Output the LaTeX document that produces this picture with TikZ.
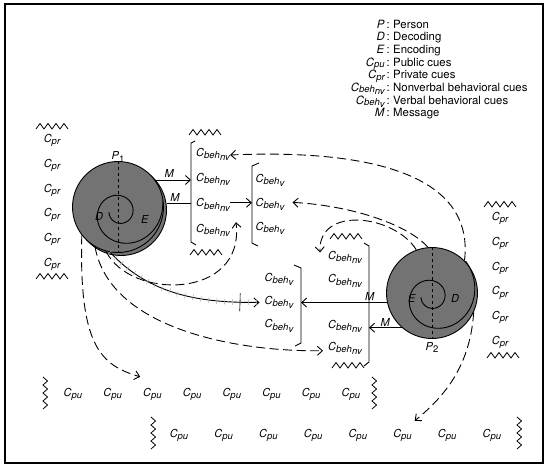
\documentclass[tikz,border=0pt]{standalone}
\usepackage{fontspec}
\setmainfont{TeX Gyre Heros}
\usetikzlibrary{positioning,arrows.meta,decorations.pathreplacing,decorations.markings}

\newcommand{\subsize}{\fontsize{9.5}{10}\selectfont}
\newcommand{\subdrop}{-2.2pt}
\newcommand{\cue}[1]{\textit{C\raisebox{\subdrop}[0pt][0pt]{\subsize #1}}}
\newcommand{\cbeh}[1]{\textit{C\raisebox{\subdrop}[0pt][0pt]{\subsize beh\raisebox{-2pt}[0pt][0pt]{#1}}}}
\newcommand{\person}[1]{\textit{P}\raisebox{-2.2pt}[0pt][0pt]{\subsize #1}}
\newcommand{\cuewidth}{24pt}
\newcommand{\cueheight}{14pt}
\newcommand{\discsize}{91pt}
\newcommand{\prgap}{10.4pt}
\tikzstyle{cue}=[fill=none,text=black,draw=none,shape=rectangle,inner sep=0pt,
                 minimum width=\cuewidth,minimum height=\cueheight,
                 font=\fontsize{11}{13}\selectfont]
\tikzstyle{tag}=[fill=none,text=black,draw=none,inner sep=0pt,font=\fontsize{11}{13}\selectfont]
\tikzstyle{legend}=[tag,font=\fontsize{11.4}{13}\selectfont\renewcommand{\subdrop}{-1.4pt}]
\tikzstyle{disc}=[shape=circle,draw=black,fill=black!55,line width=0.9pt,
                  minimum size=\discsize,inner sep=0pt]
\tikzstyle{axis}=[dashed,line width=0.8pt]
\tikzstyle{spiral}=[line width=0.9pt]
\tikzstyle{msg}=[->,line width=0.9pt]
\tikzstyle{link}=[->,line width=0.9pt,dash pattern=on 9pt off 4.5pt]
\tikzstyle{brace}=[line width=0.9pt]
\tikzset{
  hzig/.pic={\draw[line width=0.8pt] (0,0) \foreach \zz in {1,...,4} {-- ++(4,-5.5) -- ++(4,5.5)};},
  vzig/.pic={\draw[line width=0.8pt] (0,0) \foreach \zz in {1,...,4} {-- ++(4.5,4) -- ++(-4.5,4)};}
}

\begin{document}
\begin{tikzpicture}[x=1pt,y=-1pt,>={Straight Barb[length=5pt,width=9pt]}]
\useasboundingbox (0,0) rectangle (553,469);
\draw[line width=1.1pt] (5,4) rectangle (543,463);

% legend
\foreach \lkey/\ltext [count=\i] in {\textit{P}/Person, \textit{D}/Decoding, \textit{E}/Encoding,
    \cue{pu}/Public cues, \cue{pr}/Private cues, \cbeh{nv}/Nonverbal behavioral cues,
    \cbeh{v}/Verbal behavioral cues, \textit{M}/Message}
{
  \node[legend, anchor=base east] (key\i) at (390,{15.3+12.7*\i}) {\lkey\,:};
  \node[legend, anchor=base west] (txt\i) at (393,{15.3+12.7*\i}) {\ltext};
}

% persons
\node[disc] (p1rim) at (121,210) {};
\node[disc] (p1) at (118,207) {};
\node[disc] (p2) at (432,293) {};
\draw[axis] (p1.north) -- (p1.south);
\draw[axis] (p2.north) -- (p2.south);
\draw[spiral] plot[domain=181:735,samples=100,smooth]
  ({120+(11+31*((\x-180)/540)^2.5)*cos(\x)},{212-(11+31*((\x-180)/540)^2.5)*sin(\x)});
\draw[spiral] plot[domain=181:767,samples=100,smooth]
  ({432+(11+31*((\x-180)/540)^2.5)*cos(\x)},{297-(11+31*((\x-180)/540)^2.5)*sin(\x)});
\node[tag] (d1) at ([xshift=-19pt,yshift=-9pt]p1.center) {\textit{D}};
\node[tag] (e1) at ([xshift=27pt,yshift=-12pt]p1.center) {\textit{E}};
\node[tag] (e2) at ([xshift=-20pt,yshift=-5pt]p2.center) {\textit{E}};
\node[tag] (d2) at ([xshift=23pt,yshift=-5pt]p2.center) {\textit{D}};
\node[tag, above=1pt of p1] (p1name) {\person{1}};
\node[tag, below=3pt of p2] (p2name) {\person{2}};

% private cues
\node[cue] (prL1) at (52,138.5) {\cue{pr}};
\foreach \i [remember=\i as \j (initially 1)] in {2,...,6}
  \node[cue, below=\prgap of prL\j] (prL\i) {\cue{pr}};
\node[cue] (prR1) at (500,216.5) {\cue{pr}};
\foreach \i [remember=\i as \j (initially 1)] in {2,...,6}
  \node[cue, below=\prgap of prR\j] (prR\i) {\cue{pr}};

% public cues
\node[cue] (cpuA1) at (73,392) {\cue{pu}};
\foreach \i [remember=\i as \j (initially 1)] in {2,...,8}
  \node[cue, right=15.3pt of cpuA\j] (cpuA\i) {\cue{pu}};
\node[cue] (cpuB1) at (179,433) {\cue{pu}};
\foreach \i [remember=\i as \j (initially 1)] in {2,...,8}
  \node[cue, right=20.3pt of cpuB\j] (cpuB\i) {\cue{pu}};

% behavioral cues
\node[cue] (nv1) at (213,152) {\cbeh{nv}};
\node[cue, below=11pt of nv1] (nv2) {\cbeh{nv}};
\node[cue, below=11pt of nv2] (nv3) {\cbeh{nv}};
\node[cue, below=11pt of nv3] (nv4) {\cbeh{nv}};
\node[cue] (v1) at (270,178.5) {\cbeh{v}};
\node[cue, below=9.5pt of v1] (v2) {\cbeh{v}};
\node[cue, below=9.5pt of v2] (v3) {\cbeh{v}};
\node[cue] (lnv1) at (345,255.5) {\cbeh{nv}};
\node[cue, below=9pt of lnv1] (lnv2) {\cbeh{nv}};
\node[cue, below=31pt of lnv2] (lnv3) {\cbeh{nv}};
\node[cue, below=8pt of lnv3] (lnv4) {\cbeh{nv}};
\node[cue] (lv1) at (279,277) {\cbeh{v}};
\node[cue, below=9pt of lv1] (lv2) {\cbeh{v}};
\node[cue, below=9pt of lv2] (lv3) {\cbeh{v}};

% brackets and zigzags
\draw[brace] (195,141) -- (191,143) -- (191,242) -- (196,245);
\draw[brace] (259,163) -- (252,166) -- (252,243) -- (258,246);
\draw[brace] (364,243) -- (369,246) -- (369,362) -- (364,366);
\draw[brace] (294,265) -- (301,268) -- (301,343) -- (295,346);
\coordinate (brnvA) at (191,190);
\coordinate (brvA) at (252,200);
\coordinate (brnvB) at (369,300);
\coordinate (brvB) at (301,300);
\pic at (36,129) {hzig};
\pic at (36,279) {hzig};
\pic at (189,135) {hzig};
\pic at (190,255) {hzig};
\pic at (330,239) {hzig};
\pic at (332,368) {hzig};
\pic at (484,207) {hzig};
\pic at (487,358) {hzig};
\pic at (43,377) {vzig};
\pic at (372,377) {vzig};
\pic at (151,417) {vzig};
\pic at (517,417) {vzig};

% messages
\draw[msg] (p1.36) -- (p1.36 -| brnvA) node[tag, pos=0.4, above=2pt] (m1) {\textit{M}};
\draw[line width=0.9pt] (p1rim.8) -- (p1rim.8 -| brnvA) node[tag, pos=0.35, above=2pt] (m2) {\textit{M}};
\draw[msg] (nv3.east) -- (nv3.east -| brvA);
\draw[msg] (p2.192) -- (p2.192 -| brvB) node[tag, pos=0.2, above=2pt] (m3) {\textit{M}};
\draw[msg] (p2.229) -- (p2.229 -| brnvB) node[tag, pos=0.5, above=1pt] (m4) {\textit{M}};

% feedback
\draw[link] (p2.45) .. controls (476,165) and (345,150) .. ([yshift=-3pt]nv1.east);
\draw[link] (p2.95) .. controls (405,222) and (345,205) .. ([xshift=8pt]v2.east);
\draw[link] (p2.110) .. controls (395,215) and (318,205) .. ([xshift=-8pt,yshift=3pt]lnv1.west);
\draw[link] (p2.335) .. controls (470,370) and (440,400) .. ([yshift=5pt]cpuB6.north east);
\draw[link] (p1.218) .. controls (79,345) and (100,365) .. ([yshift=8pt]cpuA3.north west);
\draw[link] (p1.240) .. controls (110,330) and (240,352) .. ([xshift=-5pt,yshift=-4pt]lnv4.west);
\draw[link] (p1.255) .. controls (130,300) and (245,300) .. ([xshift=6pt,yshift=6pt]nv4.east);
\draw[msg, postaction={decorate, arrows=-, draw=black!30, line width=0.5pt,
      decoration={ticks, segment length=8pt, amplitude=3pt}},
      postaction={decorate, decoration={markings,
      mark=at position 0.88 with {\draw[arrows=-, line width=0.6pt] (0,-9pt) -- (0,9pt);}}}]
  (p1.260) .. controls (150,295) and (200,303) .. ([xshift=-5pt,yshift=-2pt]lv2.west);
\end{tikzpicture}
\end{document}
